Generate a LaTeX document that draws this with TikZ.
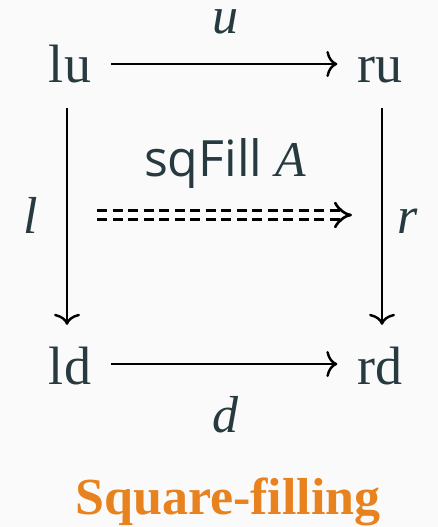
\documentclass[tikz,border=0pt]{standalone}
\usepackage{fontspec}
\setmainfont{Liberation Serif}
\newfontfamily\sqsans{Open Sans}
\usetikzlibrary{arrows.meta}
\definecolor{ink}{HTML}{263A40}
\definecolor{bg}{HTML}{FAFAFA}
\definecolor{title}{HTML}{E8821E}
\begin{document}
\begin{tikzpicture}[x=1pt,y=-1pt,
  obj/.style={text=ink,font=\fontsize{54}{60}\selectfont,inner sep=0pt,anchor=base,text height=36pt,text depth=0pt},
  lab/.style={text=ink,font=\fontsize{52}{60}\selectfont\itshape,inner sep=0pt,anchor=base},
  morph/.style={draw=black,line width=2.4pt,-{To[length=11pt,width=26pt]}},
  hmorph/.style={morph,shorten <=20pt,shorten >=20pt},
  vmorph/.style={morph,shorten <=26pt,shorten >=23pt},
  fillarrow/.style={draw=black,line width=2.6pt,double,double distance=6.5pt,dash pattern=on 10pt off 5.5pt,-{Implies[length=15pt,width=30pt]}}]
\fill[bg] (0,0) rectangle (438,527);
\useasboundingbox (0,0) rectangle (438,527);
\node[obj] (lu) at (70,82) {lu};
\node[obj] (ru) at (380,82) {ru};
\node[obj] (ld) at (70,384) {ld};
\node[obj] (rd) at (380,384) {rd};
\node[lab] (u) at (225,34) {u};
\node[lab] (d) at (225,432) {d};
\node[lab] (l) at (31,233) {l};
\node[lab] (r) at (408,233) {r};
\node[text=ink,inner sep=0pt,anchor=base] (fill) at (225,176) {\fontsize{50}{56}\sqsans sqFill \rmfamily\itshape A};
\coordinate (dl) at (97,215);
\coordinate (dr) at (352,215);
\draw[hmorph] (lu.east) -- (ru.west);
\draw[hmorph] ([yshift=2pt]ld.east) -- ([yshift=2pt]rd.west);
\draw[vmorph] ([xshift=-3pt]lu.south) -- ([xshift=-3pt]ld.north);
\draw[vmorph] ([xshift=2pt]ru.south) -- ([xshift=2pt]rd.north);
\draw[fillarrow] (dl) -- (dr);
\node[text=title,font=\fontsize{52}{60}\selectfont\bfseries,inner sep=0pt,anchor=base] (t) at (228,514) {Square-filling};
\end{tikzpicture}
\end{document}
